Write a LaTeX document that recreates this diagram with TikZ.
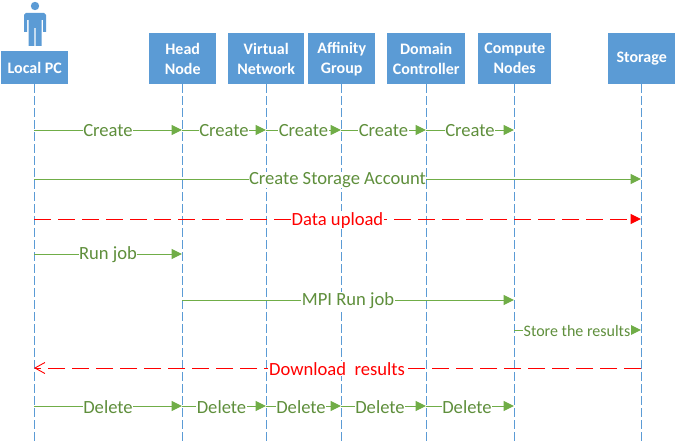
\documentclass[tikz,border=0pt]{standalone}
\usepackage{fontspec}
\setmainfont{Carlito}
\usetikzlibrary{arrows.meta,calc}
\definecolor{boxblue}{HTML}{5B9BD5}
\definecolor{msggreen}{HTML}{70AD47}
\definecolor{txtgreen}{HTML}{5F8F3C}
\definecolor{msgredc}{RGB}{255,0,0}
\tikzset{
  x=1pt,y=-1pt,
  actor/.style={fill=boxblue,draw=none,inner sep=0pt,text=white,align=center,font=\fontsize{16}{20}\selectfont\bfseries,anchor=north west},
  lifeline/.style={draw=boxblue,line width=0.8pt,dash pattern=on 9pt off 3pt},
  msg/.style={draw=msggreen,line width=1pt,-{Triangle[length=10.5pt,width=10pt]}},
  msgred/.style={draw=msgredc,line width=1pt,dash pattern=on 17pt off 7pt,-{Triangle[length=10.5pt,width=10pt]}},
  msgredback/.style={draw=msgredc,line width=0.9pt,dash pattern=on 17pt off 7pt,-{Straight Barb[length=10pt,width=11pt]}},
  lab/.style={fill=white,inner sep=0.4pt,text=txtgreen,font=\fontsize{18.6}{20}\selectfont,yshift=-0.8pt},
  labsmall/.style={lab,font=\fontsize{16}{18}\selectfont},
  labred/.style={fill=white,inner sep=1pt,text=msgredc,font=\fontsize{18.6}{20}\selectfont,yshift=-0.8pt},
}
\newcommand{\actorbox}[6]{% name, x0, y0, x1, y1, text
  \node[actor,minimum width=#4-#2,minimum height=#5-#3] (#1) at (#2,#3) {#6};}
\newcommand{\msgline}[6]{% id, from, to, y, style, label
  \coordinate (#1a) at (#2b |- 0,#4);
  \coordinate (#1b) at (#3b |- 0,#4);
  \path[#5] (#1a) -- (#1b);
  #6}
\begin{document}
\begin{tikzpicture}
\useasboundingbox (0,0) rectangle (676,441);
% person icon
\fill[boxblue] (35,6) circle (4.2);
\fill[boxblue] (26,13) -- (44,13) -- (46,15) -- (46,32) -- (43,32) -- (43,20) -- (41.5,20) -- (41.5,46) -- (35.6,46) -- (35.6,28) -- (34.4,28) -- (34.4,46) -- (28.5,46) -- (28.5,20) -- (27,20) -- (27,32) -- (24,32) -- (24,15) -- cycle;
% actors
\actorbox{lpc}{1}{51}{68}{84}{Local PC}
\actorbox{head}{149}{33}{216}{84}{Head\\Node}
\actorbox{vnet}{228}{33}{304}{84}{Virtual\\Network}
\actorbox{aff}{308}{33}{375}{84}{Affinity\\Group}
\actorbox{dom}{387}{33}{465}{84}{Domain\\Controller}
\actorbox{comp}{478}{33}{551}{84}{Compute\\Nodes}
\actorbox{stor}{608}{33}{675}{84}{\raisebox{-1pt}{Storage}}
% lifeline ends
\coordinate (lpcb) at (34,441);
\coordinate (headb) at (182,441);
\coordinate (vnetb) at (266,441);
\coordinate (affb) at (341,441);
\coordinate (domb) at (426,441);
\coordinate (compb) at (514,441);
\coordinate (storb) at (641,441);
\draw[lifeline] (lpcb |- lpc.south) -- (lpcb);
\draw[lifeline] (headb |- head.south) -- (headb);
\draw[lifeline] (vnetb |- vnet.south) -- (vnetb);
\draw[lifeline] (affb |- aff.south) -- (affb);
\draw[lifeline] (domb |- dom.south) -- (domb);
\draw[lifeline] (compb |- comp.south) -- (compb);
\draw[lifeline] (storb |- stor.south) -- (storb);
% messages
\msgline{c1}{lpc}{head}{130}{msg}{\node[lab] (lc1) at ($(c1a)!0.5!(c1b)$) {Create};}
\msgline{c2}{head}{vnet}{130}{msg}{\node[lab] (lc2) at (224,130) {Create};}
\msgline{c3}{vnet}{aff}{130}{msg}{\node[lab] (lc3) at (303.5,130) {Create};}
\msgline{c4}{aff}{dom}{130}{msg}{\node[lab] (lc4) at (383.5,130) {Create};}
\msgline{c5}{dom}{comp}{130}{msg}{\node[lab] (lc5) at (470,130) {Create};}
\msgline{s}{lpc}{stor}{179}{msg}{\node[lab] (ls) at (337.5,179) {Create Storage Account};}
\msgline{up}{lpc}{stor}{219}{msgred}{\node[labred] (lu) at (337.5,219.5) {Data upload};}
\msgline{r}{lpc}{head}{254}{msg}{\node[lab] (lr) at (108,254) {Run job};}
\msgline{m}{head}{comp}{300}{msg}{\node[lab] (lm) at (348,300) {MPI Run job};}
\msgline{t}{comp}{stor}{330}{msg}{\node[labsmall] (lt) at (577,330) {Store the results};}
\msgline{dn}{stor}{lpc}{368}{msgredback}{\node[labred] (ld) at (337,368) {Download\ \ results};}
\msgline{e1}{lpc}{head}{406}{msg}{\node[lab] (le1) at (108,406) {Delete};}
\msgline{e2}{head}{vnet}{406}{msg}{\node[lab] (le2) at (221.5,406) {Delete};}
\msgline{e3}{vnet}{aff}{406}{msg}{\node[lab] (le3) at (301,406) {Delete};}
\msgline{e4}{aff}{dom}{406}{msg}{\node[lab] (le4) at (380,406) {Delete};}
\msgline{e5}{dom}{comp}{406}{msg}{\node[lab] (le5) at (467,406) {Delete};}
\end{tikzpicture}
\end{document}
